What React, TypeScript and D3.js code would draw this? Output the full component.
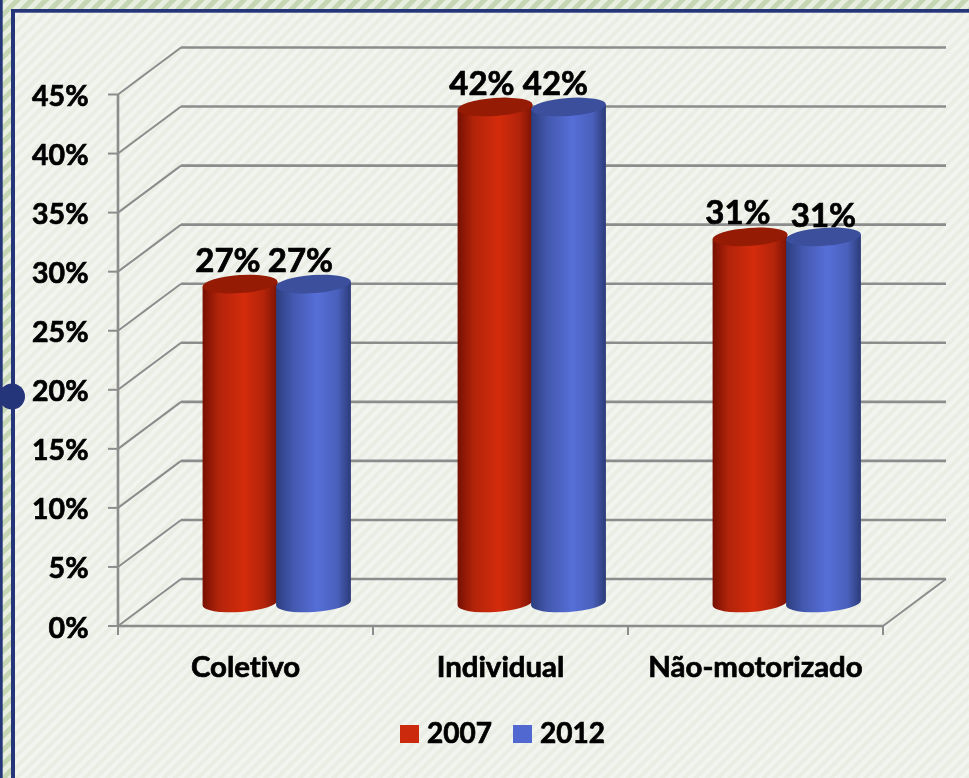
import React from "react";
import * as d3 from "d3";

const categories = ["Coletivo", "Individual", "Não-motorizado"];
const seriesNames = ["2007", "2012"];
const values2007 = [27, 42, 31];
const values2012 = [27, 42, 31];
const yTicks = [0, 5, 10, 15, 20, 25, 30, 35, 40, 45];
const seriesColors = ["#cc2a0c", "#5068d0"];

const W = 969;
const H = 778;
const depthX = 63;
const depthY = 47;
const barLift = 23;
const RX = 37.5;
const RY = 9;
const TILT = -4;
const GRID = "#8c8c8c";
const FONT = "Lato, sans-serif";

const x = d3.scaleLinear().domain([0, 3]).range([118, 883]);
const y = d3.scaleLinear().domain([0, 45]).range([626, 94.5]);

// Per-label nudges that keep neighbouring value labels from colliding.
const labelDx = [[-12, -13], [-13, -13], [-12, 0]];
const labelDy = [[-12, -12], [-12, -12], [-13, -10]];

function cylinderBody(cx: number, top: number, bottom: number) {
  const t = (TILT * Math.PI) / 180;
  const dx = RX * Math.cos(t);
  const dy = RX * Math.sin(t);
  return `M${cx - dx},${top - dy} L${cx - dx},${bottom - dy} A${RX},${RY} ${TILT} 0 0 ${cx + dx},${bottom + dy} L${cx + dx},${top + dy} Z`;
}

const textStyle = {
  fontVariantLigatures: "none",
  stroke: "#000",
  strokeWidth: 0.7,
  paintOrder: "stroke",
} as React.CSSProperties;

export default function App() {
  const series = [values2007, values2012];
  return (
    <svg
      width={W}
      height={H}
      viewBox={`0 0 ${W} ${H}`}
      style={{ position: "fixed", left: 0, top: 0, display: "block" }}
      fontFamily={FONT}
      fontWeight={700}
    >
      <defs>
        <pattern id="outerStripes" width="10" height="10" patternUnits="userSpaceOnUse" patternTransform="rotate(45)">
          <rect width="10" height="10" fill="#e8efe0" />
          <rect width="5" height="10" fill="#c4d6b4" />
        </pattern>
        <pattern id="innerStripes" width="8" height="8" patternUnits="userSpaceOnUse" patternTransform="rotate(45)">
          <rect width="8" height="8" fill="#f2f4ef" />
          <rect width="4" height="8" fill="#e9ede3" />
        </pattern>
        {["0", "1"].map((i) => (
          <linearGradient key={i} id={`cyl${i}`} x1="0" x2="1" y1="0" y2="0">
            {i === "0" ? (
              <>
                <stop offset="0" stopColor="#761003" />
                <stop offset="0.22" stopColor="#b3240a" />
                <stop offset="0.55" stopColor="#d42b0c" />
                <stop offset="0.82" stopColor="#b3240a" />
                <stop offset="1" stopColor="#7c1204" />
              </>
            ) : (
              <>
                <stop offset="0" stopColor="#2c3d7e" />
                <stop offset="0.22" stopColor="#4358ae" />
                <stop offset="0.55" stopColor="#566fd8" />
                <stop offset="0.82" stopColor="#4a60bc" />
                <stop offset="1" stopColor="#2b3b78" />
              </>
            )}
          </linearGradient>
        ))}
      </defs>

      <rect width={W} height={H} fill="url(#outerStripes)" />
      <rect x={13} y={10} width={W} height={H} fill="url(#innerStripes)" />
      <rect x={0} y={0} width={2.7} height={H} fill="#25357a" />
      <rect x={11} y={9} width={4} height={H} fill="#25357a" />
      <rect x={11} y={9} width={W} height={3.7} fill="#25357a" />
      <circle cx={12} cy={396.5} r={13} fill="#25357a" />

      {/* Back wall and side wall gridlines */}
      <g stroke={GRID} fill="none">
        {yTicks.map((t) => (
          <g key={t}>
            <line x1={x(0) + depthX} x2={x(3) + depthX} y1={y(t) - depthY} y2={y(t) - depthY} strokeWidth={2.6} />
            <line x1={x(0)} x2={x(0) + depthX} y1={y(t)} y2={y(t) - depthY} strokeWidth={2} />
            <line x1={108} x2={x(0)} y1={y(t)} y2={y(t)} strokeWidth={2} />
          </g>
        ))}
        <line x1={x(3)} x2={x(3) + depthX} y1={y(0)} y2={y(0) - depthY} strokeWidth={2} />
        <line x1={x(0)} x2={x(0)} y1={y(45)} y2={y(0)} strokeWidth={2.6} />
        <line x1={x(0)} x2={x(3)} y1={y(0)} y2={y(0)} strokeWidth={2.6} />
        {d3.range(0, 4).map((i) => (
          <line key={i} x1={x(i)} x2={x(i)} y1={y(0)} y2={y(0) + 9} strokeWidth={2} />
        ))}
      </g>

      {yTicks.map((t) => (
        <text key={t} x={88.5} y={y(t) + 11.5} textAnchor="end" fontSize={28.5} fill="#000" style={textStyle}>
          {t}%
        </text>
      ))}

      {/* Cylinders: the left series is drawn first so its neighbour overlaps it */}
      {categories.map((c, ci) =>
        series.map((vals, si) => {
          const cx = x(ci) + 122 + si * 73.5;
          const top = y(vals[ci]) - barLift;
          const bottom = y(0) - barLift;
          return (
            <g key={`${c}-${si}`}>
              <path d={cylinderBody(cx, top, bottom)} fill={`url(#cyl${si})`} />
              <ellipse
                cx={cx}
                cy={top}
                rx={RX}
                ry={RY}
                transform={`rotate(${TILT} ${cx} ${top})`}
                fill={si === 0 ? "#951b05" : "#3c4f9c"}
              />
            </g>
          );
        })
      )}

      {categories.map((c, ci) =>
        series.map((vals, si) => (
          <text
            key={`${c}-label-${si}`}
            x={x(ci) + 122 + si * 73.5 + labelDx[ci][si]}
            y={y(vals[ci]) - barLift + labelDy[ci][si]}
            textAnchor="middle"
            fontSize={33}
            fill="#000"
            style={textStyle}
          >
            {vals[ci]}%
          </text>
        ))
      )}

      {categories.map((c, i) => (
        <text key={c} x={x(i + 0.5)} y={677} textAnchor="middle" fontSize={29.4} fill="#000" style={textStyle}>
          {c}
        </text>
      ))}

      {seriesNames.map((name, i) => (
        <g key={name}>
          <rect x={400 + i * 113} y={725} width={19} height={18} fill={seriesColors[i]} />
          <text x={427 + i * 113} y={743} fontSize={28} fill="#000" style={textStyle}>
            {name}
          </text>
        </g>
      ))}
    </svg>
  );
}
